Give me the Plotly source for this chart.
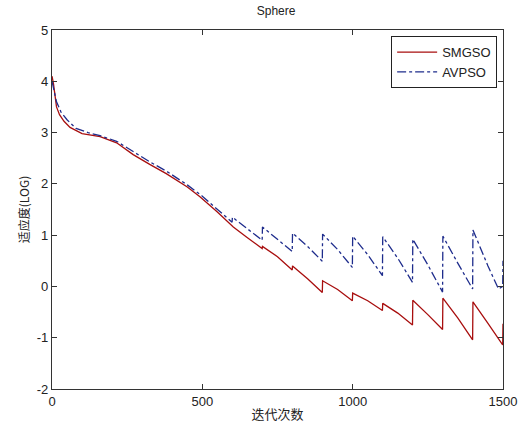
import plotly.graph_objects as go

title_text = "Sphere"
x_label = "迭代次数"
y_label = "适应度(LOG)"

smgso_iter = [0, 5, 15, 25, 40, 60, 100, 160, 215, 270, 325, 380, 450, 492, 550, 603, 650, 699, 700,
              750, 799, 800, 850, 899, 900, 950, 999, 1000, 1050, 1099, 1100, 1150, 1199, 1200,
              1250, 1299, 1300, 1350, 1399, 1400, 1450, 1499, 1500]
smgso_val = [4.1, 3.95, 3.5, 3.35, 3.22, 3.1, 2.98, 2.92, 2.8, 2.57, 2.38, 2.2, 1.94, 1.75, 1.45, 1.16, 0.95, 0.74, 0.78,
             0.58, 0.32, 0.40, 0.15, -0.12, 0.11, -0.06, -0.28, -0.13, -0.28, -0.47, -0.33, -0.52, -0.75, -0.27,
             -0.55, -0.84, -0.23, -0.62, -1.04, -0.30, -0.72, -1.14, -0.73]

avpso_iter = [0, 5, 15, 30, 50, 80, 120, 160, 215, 270, 325, 380, 450, 500, 550, 599, 600,
              650, 699, 700, 750, 799, 800, 850, 899, 900, 950, 999, 1000, 1050, 1099, 1100,
              1150, 1199, 1200, 1250, 1299, 1300, 1350, 1399, 1400, 1450, 1485, 1499, 1500]
avpso_val = [4.0, 3.85, 3.6, 3.4, 3.25, 3.08, 3.0, 2.94, 2.83, 2.63, 2.43, 2.25, 1.98, 1.76, 1.5, 1.25, 1.35,
             1.12, 0.90, 1.16, 0.92, 0.68, 1.04, 0.78, 0.49, 1.02, 0.72, 0.37, 0.98, 0.62, 0.21, 0.97,
             0.55, 0.08, 0.92, 0.42, -0.11, 0.98, 0.45, -0.05, 1.10, 0.40, -0.05, 0.0, 0.5]

x_ticks = [0, 500, 1000, 1500]
x_tick_labels = ["0", "500", "1000", "1500"]
y_ticks = [-2, -1, 0, 1, 2, 3, 4, 5]
y_tick_labels = ["-2", "-1", "0", "1", "2", "3", "4", "5"]

fig = go.Figure()
fig.add_trace(go.Scatter(x=smgso_iter, y=smgso_val, mode="lines", name="SMGSO",
                         line=dict(color="#A80E0E", width=1.3)))
fig.add_trace(go.Scatter(x=avpso_iter, y=avpso_val, mode="lines", name="AVPSO",
                         line=dict(color="#1E2C8C", width=1.3, dash="dashdot")))

axis_common = dict(showgrid=False, zeroline=False, showline=True, linecolor="#333333", linewidth=1.2,
                   mirror="ticks", ticks="inside", ticklen=5, tickcolor="#333333", automargin=False,
                   tickfont=dict(family="Liberation Sans, Arial, sans-serif", size=13, color="#222222"))

fig.update_layout(
    width=531, height=428,
    margin=dict(l=52, r=28, t=30, b=39),
    paper_bgcolor="white", plot_bgcolor="white",
    title=dict(text=title_text, x=0.52, xanchor="center", y=0.985, yanchor="top", automargin=False,
               font=dict(family="Liberation Sans, Arial, sans-serif", size=12, color="#222222")),
    xaxis=dict(range=[0, 1500], tickvals=x_ticks, ticktext=x_tick_labels, **axis_common,
               title=dict(text=x_label, standoff=2,
                          font=dict(family="Noto Sans CJK SC", size=13, color="#222222"))),
    yaxis=dict(range=[-2, 5], tickvals=y_ticks, ticktext=y_tick_labels, **axis_common,
               title=dict(text=y_label, standoff=4,
                          font=dict(family="Noto Sans CJK SC", size=12, color="#222222"))),
    legend=dict(x=0.987, y=0.983, xanchor="right", yanchor="top",
                bordercolor="#222222", borderwidth=1, bgcolor="white",
                font=dict(family="Liberation Sans, Arial, sans-serif", size=13, color="#222222"),
                tracegroupgap=0, itemwidth=40),
    showlegend=True,
)

fig.write_html("out.html", config={"displayModeBar": False},
               post_script="document.body.style.margin='0';document.body.style.overflow='hidden';")
